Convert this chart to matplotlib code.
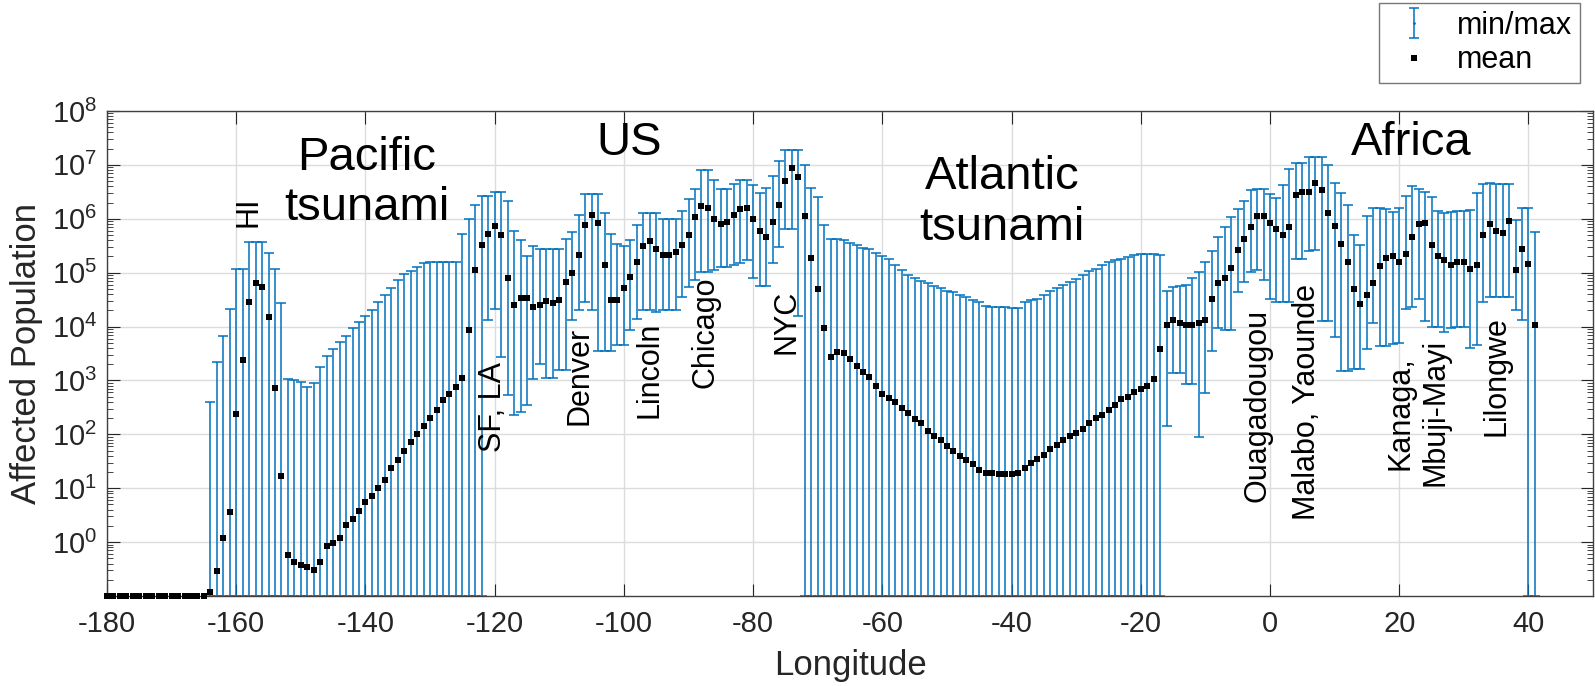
import numpy as np
import matplotlib.pyplot as plt
from matplotlib.ticker import LogLocator, NullFormatter, LogFormatterSciNotation

plt.rcParams['font.family'] = ['Liberation Sans', 'DejaVu Sans']
plt.rcParams['mathtext.fontset'] = 'custom'
plt.rcParams['mathtext.rm'] = 'Liberation Sans'
plt.rcParams['mathtext.it'] = 'Liberation Sans:italic'
plt.rcParams['mathtext.bf'] = 'Liberation Sans:bold'
plt.rcParams['axes.unicode_minus'] = False

nan = np.nan
BLUE = '#0072BD'
GRAY = '#262626'
YMIN, YMAX = 1e-1, 1e8

# one sample per degree of longitude, -180 .. 41
lon = np.arange(-180, 42)

mean_pop = [
    0, 0, 0, 0, 0, 0, 0, 0, 0, 0,                                          # -180
    0, 0, 0, 0, 0, 0, 0.12, 0.29, 1.2, 3.6,                                # -170
    240, 2400, 2.9e4, 6.3e4, 5.5e4, 1.5e4, 730, 17, 0.57, 0.43,            # -160
    0.37, 0.35, 0.30, 0.43, 0.84, 0.95, 1.2, 2.1, 2.7, 3.8,                # -150
    5.5, 7.3, 10, 14, 24, 33, 50, 73, 100, 140,                            # -140
    200, 280, 430, 560, 740, 1100, 8800, 1.1e5, 3.3e5, 5.2e5,              # -130
    7.3e5, 4.9e5, 7.8e4, 2.5e4, 3.4e4, 3.4e4, 2.3e4, 2.5e4, 3.0e4, 2.7e4,  # -120
    3.1e4, 6.7e4, 9.9e4, 2.1e5, 7.7e5, 1.2e6, 8.3e5, 1.4e5, 3.1e4, 3.1e4,  # -110
    5.2e4, 8.4e4, 1.6e5, 3.1e5, 3.8e5, 2.7e5, 2.1e5, 2.1e5, 2.4e5, 3.3e5,  # -100
    4.9e5, 1.1e6, 1.7e6, 1.6e6, 9.7e5, 7.9e5, 8.7e5, 1.2e6, 1.5e6, 1.6e6,  # -90
    1.0e6, 6.0e5, 4.6e5, 8.7e5, 1.8e6, 5.0e6, 8.9e6, 6.0e6, 1.15e6, 1.9e5, # -80
    4.9e4, 9600, 2700, 3400, 3200, 2500, 1850, 1450, 1170, 790,            # -70
    570, 480, 400, 310, 245, 190, 160, 115, 94, 78,                        # -60
    62, 49, 40, 34, 28, 22, 19.4, 18.9, 18, 18,                            # -50
    18, 19.4, 24, 29, 35, 42, 53, 64, 78, 93,                              # -40
    104, 125, 160, 198, 228, 282, 350, 445, 500, 600,                      # -30
    680, 800, 1060, 3800, 1.06e4, 1.3e4, 1.14e4, 1.06e4, 1.09e4, 1.14e4,   # -20
    1.3e4, 3.2e4, 6.3e4, 8.1e4, 1.2e5, 2.6e5, 4.3e5, 6.9e5, 1.12e6, 1.12e6,# -10
    8.5e5, 6.5e5, 4.9e5, 7.1e5, 2.8e6, 3.2e6, 3.2e6, 4.7e6, 3.4e6, 1.26e6, # 0
    7.2e5, 3.4e5, 1.6e5, 5.0e4, 2.6e4, 3.8e4, 6.5e4, 1.35e5, 1.86e5, 2.0e5,# 10
    1.6e5, 2.2e5, 4.5e5, 7.9e5, 8.3e5, 3.2e5, 2.0e5, 1.7e5, 1.38e5, 1.55e5,# 20
    1.55e5, 1.17e5, 1.38e5, 5.1e5, 8.1e5, 5.9e5, 5.5e5, 9.1e5, 1.12e5, 2.8e5,  # 30
    1.45e5, 1.08e4,                                                        # 40
]

max_pop = [
    nan, nan, nan, nan, nan, nan, nan, nan, nan, nan,                      # -180
    nan, nan, nan, nan, nan, nan, 400, 2200, 6800, 2.1e4,                  # -170
    1.16e5, 1.16e5, 3.7e5, 3.7e5, 3.7e5, 2.3e5, 1.16e5, 2.7e4, 1070, 1010, # -160
    945, 760, 880, 1740, 2900, 3760, 5200, 6800, 9500, 1.22e4,             # -150
    1.6e4, 2.0e4, 2.9e4, 3.8e4, 5.3e4, 7.2e4, 9.6e4, 1.06e5, 1.28e5, 1.48e5,  # -140
    1.6e5, 1.6e5, 1.6e5, 1.6e5, 1.6e5, 5.2e5, 9.7e5, 1.8e6, 2.7e6, 2.7e6,  # -130
    3.1e6, 3.1e6, 2.1e6, 6.0e5, 4.1e5, 2.0e5, 3.1e5, 2.7e5, 2.7e5, 2.7e5,  # -120
    2.7e5, 4.2e5, 5.6e5, 1.2e6, 2.85e6, 2.85e6, 2.85e6, 1.28e6, 5.2e5, 3.4e5,  # -110
    3.1e5, 4.1e5, 7.6e5, 1.28e6, 1.28e6, 1.28e6, 1.0e6, 1.0e6, 1.0e6, 1.38e6,  # -100
    2.3e6, 3.5e6, 8.2e6, 8.2e6, 5.3e6, 3.6e6, 3.6e6, 4.5e6, 5.2e6, 5.2e6,  # -90
    4.2e6, 3.0e6, 3.7e6, 6.2e6, 1.17e7, 1.9e7, 1.9e7, 1.9e7, 1.0e7, 3.7e6, # -80
    2.5e6, 7.6e5, 4.3e5, 4.3e5, 4.0e5, 3.6e5, 3.2e5, 2.9e5, 2.7e5, 2.3e5,  # -70
    2.05e5, 1.8e5, 1.4e5, 1.1e5, 9.0e4, 7.8e4, 6.9e4, 6.3e4, 5.7e4, 5.1e4, # -60
    4.5e4, 4.3e4, 3.8e4, 3.5e4, 3.1e4, 2.8e4, 2.4e4, 2.3e4, 2.3e4, 2.3e4,  # -50
    2.2e4, 2.2e4, 2.8e4, 3.1e4, 3.3e4, 3.9e4, 4.5e4, 5.3e4, 5.9e4, 6.7e4,  # -40
    7.7e4, 9.2e4, 1.06e5, 1.19e5, 1.4e5, 1.6e5, 1.7e5, 1.83e5, 1.96e5, 2.1e5,  # -30
    2.2e5, 2.2e5, 2.2e5, 2.1e5, 4.6e4, 5.5e4, 5.6e4, 6.0e4, 7.8e4, 1.05e5, # -20
    1.55e5, 2.5e5, 4.5e5, 7.1e5, 1.07e6, 1.5e6, 2.1e6, 3.4e6, 3.5e6, 3.5e6,# -10
    2.9e6, 2.4e6, 4.2e6, 8.5e6, 1.07e7, 1.07e7, 1.4e7, 1.4e7, 1.4e7, 1.0e7,# 0
    4.6e6, 3.0e6, 1.8e6, 5.0e5, 3.3e5, 1.15e6, 1.6e6, 1.6e6, 1.5e6, 1.35e6,# 10
    1.6e6, 2.6e6, 4.0e6, 3.5e6, 3.2e6, 2.5e6, 1.4e6, 1.3e6, 1.35e6, 1.4e6, # 20
    1.4e6, 1.45e6, 3.0e6, 4.5e6, 4.6e6, 4.5e6, 4.4e6, 4.4e6, 9.3e5, 1.6e6, # 30
    1.6e6, 5.6e5,                                                          # 40
]

# 0 = minimum of zero (bar runs to the bottom of the axis)
min_pop = [
    nan, nan, nan, nan, nan, nan, nan, nan, nan, nan,                      # -180
    nan, nan, nan, nan, nan, nan, 0, 0, 0, 0,                              # -170
    0, 0, 0, 0, 0, 0, 0, 0, 0, 0,                                          # -160
    0, 0, 0, 0, 0, 0, 0, 0, 0, 0,                                          # -150
    0, 0, 0, 0, 0, 0, 0, 0, 0, 0,                                          # -140
    0, 0, 0, 0, 0, 0, 0, 0, 0, 1.3e4,                                      # -130
    2.1e4, 2700, 530, 230, 255, 350, 1060, 2000, 1120, 1120,               # -120
    1560, 1560, 1.3e4, 2.0e4, 2.9e4, 2.0e4, 3500, 3500, 3500, 4500,        # -110
    4500, 8800, 1.4e4, 2.0e4, 2.0e4, 1.9e4, 2.0e4, 2.0e4, 2.0e4, 3.5e4,    # -100
    5.5e4, 7.3e4, 1.04e5, 1.04e5, 1.1e5, 1.25e5, 1.28e5, 1.38e5, 1.5e5, 1.7e5,  # -90
    7.8e4, 5.6e4, 5.6e4, 1.5e5, 3.0e5, 6.4e5, 6.4e5, 1.6e4, 0, 0,          # -80
    0, 0, 0, 0, 0, 0, 0, 0, 0, 0,                                          # -70
    0, 0, 0, 0, 0, 0, 0, 0, 0, 0,                                          # -60
    0, 0, 0, 0, 0, 0, 0, 0, 0, 0,                                          # -50
    0, 0, 0, 0, 0, 0, 0, 0, 0, 0,                                          # -40
    0, 0, 0, 0, 0, 0, 0, 0, 0, 0,                                          # -30
    0, 0, 0, 0, 140, 1380, 1380, 870, 870, 89,                             # -20
    590, 3500, 9300, 8500, 8700, 4.3e4, 6.6e4, 1.05e5, 1.1e5, 7.4e4,       # -10
    3.3e4, 2.8e4, 2.8e4, 2.8e4, 1.8e5, 1.8e5, 2.5e5, 2.6e5, 1.26e4, 1.26e4,# 0
    6300, 1500, 1500, 1600, 1600, 3900, 1.15e4, 4400, 4400, 4700,          # 10
    5000, 2.1e4, 2.3e4, 3.2e4, 1.26e4, 1.0e4, 1.0e4, 7900, 9300, 9800,     # 20
    9800, 4000, 4500, 2.8e4, 3.5e4, 3.5e4, 3.5e4, 3.5e4, 2.0e4, 1.35e4,    # 30
    0, 0,                                                                  # 40
]

mean_pop = np.array(mean_pop, dtype=float)
max_pop = np.array(max_pop, dtype=float)
min_pop = np.array(min_pop, dtype=float)

# zeros cannot sit on a log axis: show them on the floor
mean_show = np.where(mean_pop > 0, mean_pop, YMIN)
low_show = np.where(min_pop > 0, min_pop, YMIN)
has_bar = ~np.isnan(max_pop)

fig = plt.figure(figsize=(15.95, 6.86), dpi=100)
ax = fig.add_axes([0.0671, 0.1312, 0.9317, 0.7070])
ax.set_yscale('log')

eb = ax.errorbar(lon[has_bar], mean_show[has_bar],
                 yerr=[mean_show[has_bar] - low_show[has_bar],
                       max_pop[has_bar] - mean_show[has_bar]],
                 fmt='.', ms=2, color=BLUE, ecolor=BLUE, elinewidth=1.1,
                 capsize=3.3, capthick=1.1, zorder=2)
for cap in eb.lines[1]:
    cap.set_clip_on(False)
for bar in eb.lines[2]:
    bar.set_clip_on(False)

mean_line, = ax.plot(lon, mean_show, 's', color='black', ms=4.9, mew=0,
                     ls='none', clip_on=False, zorder=3)

ax.set_xlim(-180, 50)
ax.set_ylim(YMIN, YMAX)
ax.set_xticks(range(-180, 41, 20))
ax.set_yticks([10.0 ** k for k in range(0, 9)])
ax.yaxis.set_major_formatter(LogFormatterSciNotation())
ax.yaxis.set_minor_locator(LogLocator(base=10, subs=np.arange(2, 10), numticks=60))
ax.yaxis.set_minor_formatter(NullFormatter())

ax.grid(True, which='major', color='#dcdcdc', lw=1.0)
ax.set_axisbelow(True)
ax.tick_params(which='both', direction='in', top=True, right=True,
               color=GRAY, labelcolor=GRAY)
ax.tick_params(which='major', length=9, width=0.8, labelsize=21)
ax.tick_params(which='minor', length=4, width=0.6)
ax.tick_params(axis='x', pad=10)
ax.tick_params(axis='y', pad=7)
for sp in ax.spines.values():
    sp.set_color('#404040')
    sp.set_linewidth(1.0)

ax.set_xlabel('Longitude', fontsize=25, color=GRAY)
ax.set_ylabel('Affected Population', fontsize=25, color=GRAY)
ax.xaxis.set_label_coords(0.5, -0.144)
ax.xaxis.label.set_va('center')
ax.yaxis.set_label_coords(-0.0545, 0.5)
ax.yaxis.label.set_va('center')

# region titles
big = dict(fontsize=34, ha='center', va='center', color='black', zorder=5)
ax.text(-139.8, 4.6e6, 'Pacific\ntsunami', **big)
ax.text(-99.2, 2.6e7, 'US', **big)
ax.text(-41.5, 2.0e6, 'Atlantic\ntsunami', **big)
ax.text(21.9, 2.6e7, 'Africa', **big)

# city labels
city = dict(fontsize=22, ha='center', va='center', rotation=90, color='black',
            zorder=5, multialignment='center')
ax.text(-158.1, 1.35e6, 'HI', **city)
ax.text(-120.2, 320, 'SF, LA', **city)
ax.text(-106.8, 1.2e3, 'Denver', **city)
ax.text(-96.0, 1.6e3, 'Lincoln', **city)
ax.text(-87.3, 8e3, 'Chicago', **city)
ax.text(-74.9, 1.2e4, 'NYC', **city)
ax.text(-2.0, 340, 'Ouagadougou', **city)
ax.text(5.7, 400, 'Malabo, Yaounde', **city)
ax.text(22.9, 250, 'Kanaga,\nMbuji-Mayi', **city)
ax.text(35.0, 1.2e3, 'Lilongwe', **city)

leg = ax.legend([eb, mean_line], ['min/max', 'mean'], loc='upper right',
                bbox_to_anchor=(1580 / 1595, 683 / 686), bbox_transform=fig.transFigure,
                fontsize=22, frameon=True, fancybox=False, edgecolor='#555555',
                borderaxespad=0, handlelength=1.8, handletextpad=0.5,
                labelspacing=0.15, borderpad=0.25)
leg.get_frame().set_linewidth(1.0)

fig.savefig('out.png', dpi=100)
